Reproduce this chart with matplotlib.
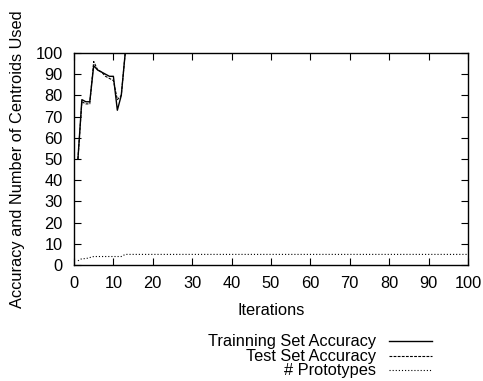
import matplotlib
matplotlib.use("Agg")
import matplotlib.pyplot as plt
from matplotlib.lines import Line2D

plt.rcParams['font.family'] = ['Liberation Sans', 'DejaVu Sans']

# data
iters = list(range(1, 101))
train_head = [50, 78, 77, 77, 94, 92, 91, 90, 89, 89, 73, 80]
test_head = [50, 77, 76, 76, 96, 92, 91, 89, 88, 87, 78, 80]
proto_head = [2, 3, 3, 3.5, 4, 4, 4, 4, 4, 4, 4, 4]
train_acc = train_head + [100] * (100 - len(train_head))
test_acc = test_head + [100] * (100 - len(test_head))
prototypes = proto_head + [5] * (100 - len(proto_head))

xticks = list(range(0, 101, 10))
yticks = list(range(0, 101, 10))
series_labels = ['Trainning Set Accuracy', 'Test Set Accuracy', '# Prototypes']

W, H = 483, 381
fig = plt.figure(figsize=(W/100, H/100), dpi=100)
ax = fig.add_axes([74/W, 1-265/H, (468-74)/W, (265-53)/H])

styles = [dict(color='black', lw=1.0, linestyle='-'),
          dict(color='black', lw=0.8, dashes=(2.5, 1.2)),
          dict(color='black', lw=0.8, dashes=(1, 1.8))]

for ys, st, lab in zip([train_acc, test_acc, prototypes], styles, series_labels):
    ax.plot(iters, ys, label=lab, **st)

FS = 11.8
ax.set_xlim(0, 100)
ax.set_ylim(0, 100)
ax.set_xticks(xticks)
ax.set_yticks(yticks)
ax.tick_params(direction='in', length=5, width=0.8, top=True, right=True, labelsize=FS, pad=8)
for s in ax.spines.values():
    s.set_linewidth(1.0)
ax.set_xlabel('Iterations', fontsize=FS, labelpad=8.5)
ax.set_ylabel('Accuracy and Number of Centroids Used', fontsize=FS, labelpad=8)

# gnuplot-style key: text right-aligned, sample to the right
baselines = [346, 360.5, 375]
for lab, st, yb in zip(series_labels, styles, baselines):
    fig.text(376/W, 1-yb/H, lab, ha='right', va='baseline', fontsize=FS)
    yl = 1-(yb-5)/H
    fig.add_artist(Line2D([389/W, 432/W], [yl, yl], transform=fig.transFigure, **st))

fig.savefig('out.png', dpi=100)
